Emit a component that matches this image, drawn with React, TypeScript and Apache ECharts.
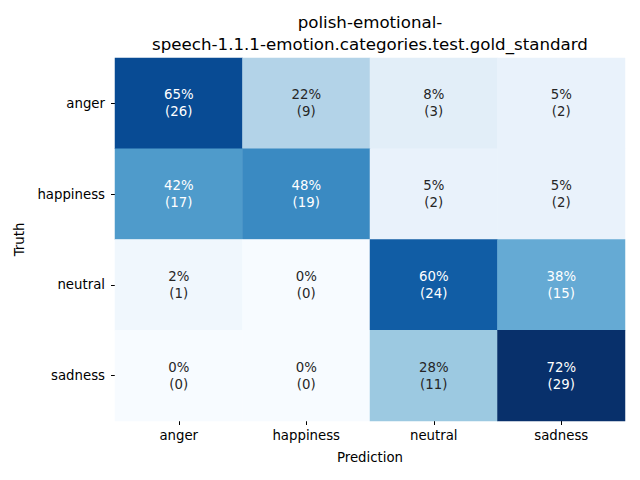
import React, { useEffect, useRef } from "react";
import * as echarts from "echarts";

const categories = ["anger", "happiness", "neutral", "sadness"];
// rows = truth, columns = prediction
const counts = [
  [26, 9, 3, 2],
  [17, 19, 2, 2],
  [1, 0, 24, 15],
  [0, 0, 11, 29],
];
const percents = [
  [65, 22, 8, 5],
  [42, 48, 5, 5],
  [2, 0, 60, 38],
  [0, 0, 28, 72],
];
const titleLines = ["polish-emotional-", "speech-1.1.1-emotion.categories.test.gold_standard"];
const blues = ["#f7fbff", "#deebf7", "#c6dbef", "#9ecae1", "#6baed6", "#4292c6", "#2171b5", "#08519c", "#08306b"];

export default function App() {
  const ref = useRef<HTMLDivElement>(null);
  useEffect(() => {
    const chart = echarts.init(ref.current!, null, { renderer: "svg" });
    const totals = counts.map((r) => r.reduce((a, b) => a + b, 0));
    const fracs = counts.map((r, i) => r.map((c) => c / totals[i]));
    let vmax = 0;
    fracs.forEach((r) => r.forEach((v) => (vmax = Math.max(vmax, v))));
    const data: any[] = [];
    counts.forEach((row, i) =>
      row.forEach((c, j) => {
        const v = fracs[i][j];
        data.push({
          value: [j, i, v],
          label: { color: v / vmax > 0.45 ? "#ffffff" : "#262626" },
        });
      })
    );
    const font = "DejaVu Sans";
    chart.setOption({
      animation: false,
      backgroundColor: "#ffffff",
      graphic: titleLines.map((t, k) => ({
        type: "text",
        x: 370,
        y: 22 + k * 22,
        style: {
          text: t,
          fontFamily: font,
          fontSize: 16.67,
          fill: "#000",
          align: "center",
          verticalAlign: "middle",
        },
      })),
      grid: { left: 115, right: 15, top: 58, bottom: 59 },
      xAxis: {
        type: "category",
        data: categories,
        name: "Prediction",
        nameLocation: "middle",
        nameGap: 30,
        nameTextStyle: { fontFamily: font, fontSize: 13.3, color: "#000" },
        axisLine: { show: false },
        axisTick: { show: true, alignWithLabel: true, length: 4, lineStyle: { color: "#000" } },
        axisLabel: { fontFamily: font, fontSize: 13.3, color: "#000", margin: 8 },
        splitArea: { show: false },
      },
      yAxis: {
        type: "category",
        data: categories,
        inverse: true,
        name: "Truth",
        nameLocation: "middle",
        nameGap: 88,
        nameRotate: 90,
        nameTextStyle: { fontFamily: font, fontSize: 13.3, color: "#000" },
        axisLine: { show: false },
        axisTick: { show: true, alignWithLabel: true, length: 4, lineStyle: { color: "#000" } },
        axisLabel: { fontFamily: font, fontSize: 13.3, color: "#000", margin: 10 },
      },
      visualMap: {
        show: false,
        type: "continuous",
        min: 0,
        max: vmax,
        dimension: 2,
        inRange: { color: blues },
      },
      series: [
        {
          type: "heatmap",
          data,
          label: {
            show: true,
            fontFamily: font,
            fontSize: 13.3,
            lineHeight: 17,
            formatter: (p: any) => {
              const j = p.value[0];
              const i = p.value[1];
              return percents[i][j] + "%\n(" + counts[i][j] + ")";
            },
          },
          itemStyle: { borderWidth: 0 },
          emphasis: { disabled: true },
        },
      ],
    });
    return () => chart.dispose();
  }, []);
  return <div ref={ref} style={{ width: 640, height: 480, position: "absolute", left: 0, top: 0 }} />;
}
